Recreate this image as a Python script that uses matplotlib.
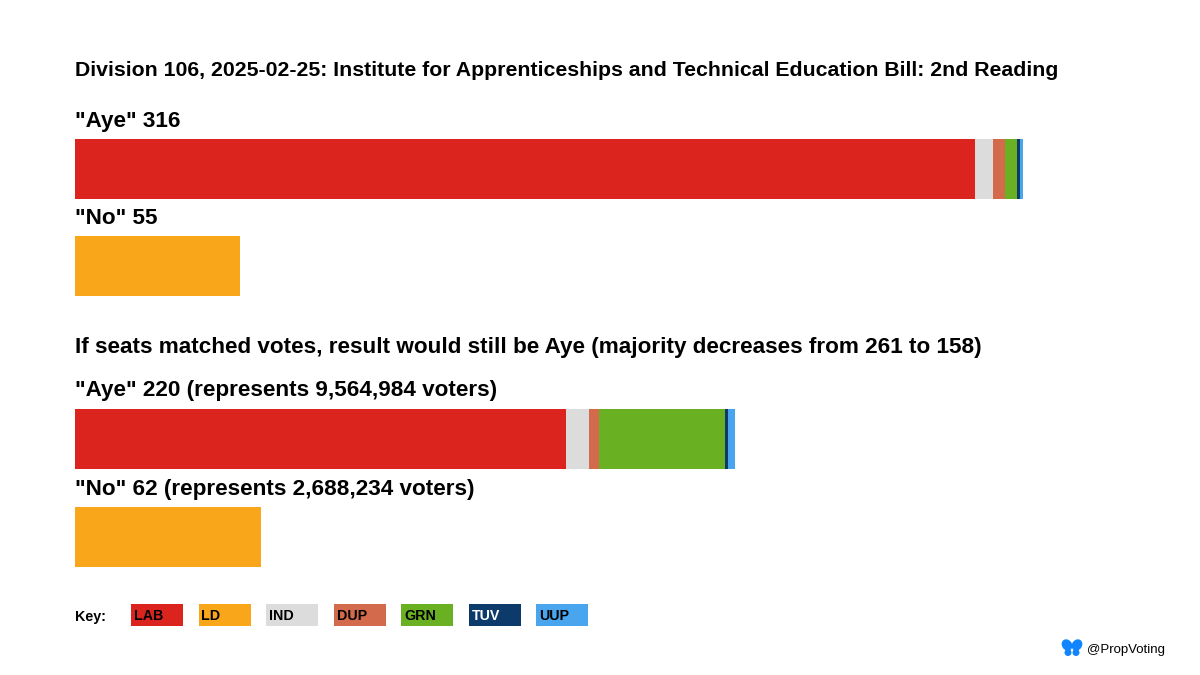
import numpy as np
from matplotlib import pyplot as plt
from matplotlib.patches import Rectangle, Ellipse

plt.rcParams['font.family'] = ['Liberation Sans', 'DejaVu Sans']

parties = ['LAB', 'LD', 'IND', 'DUP', 'GRN', 'TUV', 'UUP']
colours = ['#DC241F', '#FAA61A', '#DCDCDC', '#D46A4C', '#6AB023', '#0C3A6A', '#48A5EE']

# actual votes by party
aye_actual = [300, 0, 6, 4, 4, 1, 1]
no_actual = [0, 55, 0, 0, 0, 0, 0]
# seats if they matched votes
aye_prop = [163.7, 0, 7.6, 3.3, 42.1, 1.1, 2.2]
no_prop = [0, 62, 0, 0, 0, 0, 0]

title = "Division 106, 2025-02-25: Institute for Apprenticeships and Technical Education Bill: 2nd Reading"
subtitle = "If seats matched votes, result would still be Aye (majority decreases from 261 to 158)"
labels = ['"Aye" 316', '"No" 55',
          '"Aye" 220 (represents 9,564,984 voters)', '"No" 62 (represents 2,688,234 voters)']

fig = plt.figure(figsize=(12, 6.75), dpi=100)

# bars: x in votes, y in pixels from top
ax = fig.add_axes([0, 0, 1, 1])
ax.set_xlim(-25, 375)
ax.set_ylim(675, 0)
ax.axis('off')

rows = [(aye_actual, 168.5), (no_actual, 266), (aye_prop, 438.5), (no_prop, 536.5)]
for vals, yc in rows:
    left = np.concatenate([[0], np.cumsum(vals)[:-1]])
    ax.barh(yc, vals, left=left, height=60, color=colours, linewidth=0)

# text and key in pixel coordinates
deco = fig.add_axes([0, 0, 1, 1])
deco.set_xlim(0, 1200)
deco.set_ylim(675, 0)
deco.axis('off')
deco.patch.set_alpha(0)

big = dict(fontsize=16.2, fontweight='bold', va='baseline', ha='left')
deco.text(75, 75.5, title, fontsize=15.3, fontweight='bold', va='baseline', ha='left')
deco.text(75, 127, labels[0], **big)
deco.text(75, 224, labels[1], **big)
deco.text(75, 353, subtitle, **big)
deco.text(75, 396, labels[2], **big)
deco.text(75, 495, labels[3], **big)

deco.text(75, 620.5, 'Key:', fontsize=10.3, fontweight='bold', va='baseline')
for i, (p, c) in enumerate(zip(parties, colours)):
    x0 = 131 + i * 67.5
    deco.add_patch(Rectangle((x0, 604), 52, 22, color=c, lw=0))
    deco.text(x0 + 3, 620.5, p, fontsize=10.3, fontweight='bold', va='baseline',
              color='white' if p == 'TUV' else 'black')

# bluesky butterfly
blue = '#1185FE'
deco.add_patch(Ellipse((1067, 645), 10, 12, angle=-35, color=blue, lw=0))
deco.add_patch(Ellipse((1077, 645), 10, 12, angle=35, color=blue, lw=0))
deco.add_patch(Ellipse((1068, 652.5), 7, 7, color=blue, lw=0))
deco.add_patch(Ellipse((1076, 652.5), 7, 7, color=blue, lw=0))
deco.text(1087, 652.5, '@PropVoting', fontsize=9.5, va='baseline')

fig.savefig('out.png', dpi=100)
